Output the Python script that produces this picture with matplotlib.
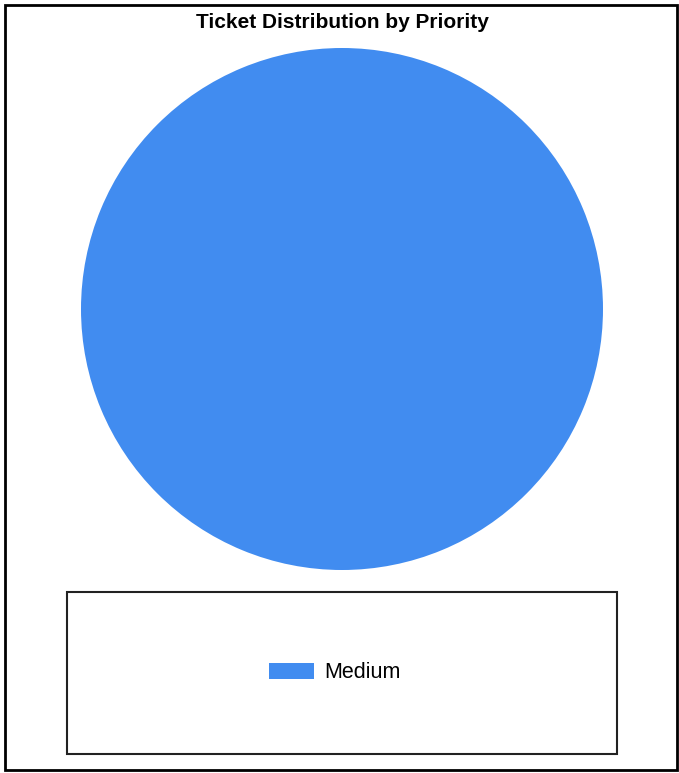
import matplotlib.pyplot as plt
from matplotlib.patches import Rectangle

labels = ["Medium"]
counts = [1]
colors = ["#418CF0"]
title = "Ticket Distribution by Priority"

W, H = 679, 773
fig = plt.figure(figsize=(W / 100, H / 100), dpi=100)
plt.rcParams["font.family"] = ["Liberation Sans", "DejaVu Sans"]


def box(x0, y0, x1, y1):
    # pixel box (top-left origin) -> figure fraction
    return [x0 / W, 1 - y1 / H, (x1 - x0) / W, (y1 - y0) / H]


# outer frame
fig.patches.append(Rectangle((5 / W, 1 - 770 / H), 672 / W, 765 / H,
                             transform=fig.transFigure, fill=False,
                             edgecolor="black", linewidth=2))

fig.text(342 / W, 1 - 22 / H, title, ha="center", va="center",
         fontsize=15, fontweight="bold")

ax = fig.add_axes(box(81, 48, 603, 570))
wedges, _ = ax.pie(counts, colors=colors, radius=1, startangle=90,
                   wedgeprops=dict(linewidth=0))
ax.set_xlim(-1, 1)
ax.set_ylim(-1, 1)
ax.set_aspect("auto")
ax.axis("off")

# legend box
fig.patches.append(Rectangle((67 / W, 1 - 754 / H), 550 / W, 162 / H,
                             transform=fig.transFigure, fill=False,
                             edgecolor="#222222", linewidth=1.5))
fig.legend(wedges, labels, loc="center", bbox_to_anchor=(335 / W, 1 - 673 / H),
           frameon=False, fontsize=15.5, handlelength=2.1, handleheight=0.8,
           handletextpad=0.47)

fig.savefig("out.png", dpi=100)
